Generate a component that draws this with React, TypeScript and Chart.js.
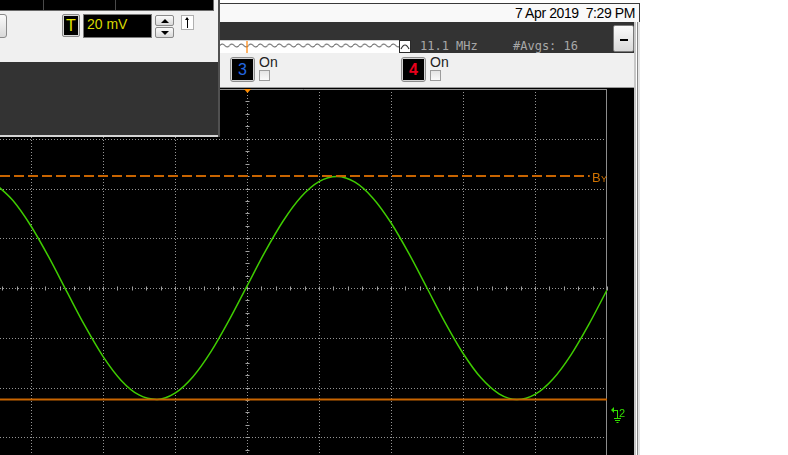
import React, { useEffect, useRef } from "react";
import { Chart, registerables } from "chart.js";

Chart.register(...registerables);

// Channel 2 trace read from the screen: time in horizontal divisions (trigger at 0),
// level in vertical divisions (centre line = 0)
const timeDiv: number[] = [
  -3.5, -3.25, -3.0, -2.75, -2.5, -2.25, -2.0, -1.75, -1.5, -1.25, -1.0, -0.75,
  -0.5, -0.25, 0, 0.25, 0.5, 0.75, 1.0, 1.25, 1.5, 1.75, 2.0, 2.25, 2.5, 2.75,
  3.0, 3.25, 3.5, 3.75, 4.0, 4.25, 4.5, 4.75, 5.0,
];
const ch2Div: number[] = [
  2.101, 1.758, 1.246, 0.614, -0.079, -0.763, -1.374, -1.852, -2.15, -2.24, -2.114, -1.783,
  -1.279, -0.651, 0.039, 0.726, 1.342, 1.829, 2.138, 2.241, 2.127, 1.806, 1.311, 0.689, 0.0, -0.689,
  -1.311, -1.806, -2.126, -2.241, -2.139, -1.829, -1.343, -0.726, -0.04,
];

// Graticule
const xGridDivs: number[] = [-3, -2, -1, 0, 1, 2, 3, 4];
const yGridDivs: number[] = [-3, -2, -1, 0, 1, 2, 3];
const xRange: number[] = [-3.43, 5];
const yRange: number[] = [-4, 4];
const xMinorPerDiv = 5;
const yMinorPerDiv = 4;

// Cursors / markers
const cursorAY = -2.24;
const cursorBY = 2.25;
const cursorBEnd = 4.76;
const ch2GroundDiv = -2.5;
const triggerTime = 0;

// Header texts
const dateText = "7 Apr 2019  7:29 PM";
const freqText = "11.1 MHz";
const avgText = "#Avgs: 16";
const trigLevelText = "20 mV";

const scopePlugin = {
  id: "scopeGraticule",
  beforeDatasetsDraw(chart: any) {
    const { ctx, chartArea: a } = chart;
    const x = chart.scales.x;
    const y = chart.scales.y;
    ctx.save();
    ctx.lineWidth = 1;
    ctx.strokeStyle = "#959595";
    ctx.setLineDash([1, 2]);
    for (const v of xGridDivs) {
      const px = Math.round(x.getPixelForValue(v)) + 0.5;
      ctx.beginPath();
      ctx.moveTo(px, a.top);
      ctx.lineTo(px, a.bottom);
      ctx.stroke();
    }
    for (const v of yGridDivs) {
      const py = Math.round(y.getPixelForValue(v)) + 0.5;
      ctx.beginPath();
      ctx.moveTo(a.left, py);
      ctx.lineTo(a.right, py);
      ctx.stroke();
    }
    ctx.setLineDash([]);
    const cx = Math.round(x.getPixelForValue(0)) + 0.5;
    const cy = Math.round(y.getPixelForValue(0)) + 0.5;
    ctx.strokeStyle = "#a0a0a0";
    ctx.beginPath();
    for (let k = Math.ceil(xRange[0] * xMinorPerDiv); k <= xRange[1] * xMinorPerDiv; k++) {
      const px = Math.round(x.getPixelForValue(k / xMinorPerDiv)) + 0.5;
      ctx.moveTo(px, cy - 2);
      ctx.lineTo(px, cy + 2);
    }
    for (let k = yRange[0] * yMinorPerDiv; k <= yRange[1] * yMinorPerDiv; k++) {
      const py = Math.round(y.getPixelForValue(k / yMinorPerDiv)) + 0.5;
      ctx.moveTo(cx - 2, py);
      ctx.lineTo(cx + 2, py);
    }
    ctx.stroke();
    // frame
    ctx.strokeStyle = "#8c8c8c";
    ctx.beginPath();
    ctx.moveTo(a.left, a.top + 0.5);
    ctx.lineTo(a.right, a.top + 0.5);
    ctx.moveTo(a.right - 0.5, a.top);
    ctx.lineTo(a.right - 0.5, a.bottom);
    ctx.stroke();
    ctx.restore();
  },
  afterDatasetsDraw(chart: any) {
    const { ctx, chartArea: a } = chart;
    const x = chart.scales.x;
    const y = chart.scales.y;
    ctx.save();
    // trigger marker
    const tx = Math.round(x.getPixelForValue(triggerTime)) + 0.5;
    ctx.fillStyle = "#ff8c00";
    ctx.beginPath();
    ctx.moveTo(tx - 3.5, a.top);
    ctx.lineTo(tx + 3.5, a.top);
    ctx.lineTo(tx, a.top + 4);
    ctx.closePath();
    ctx.fill();
    // BY label
    const by = y.getPixelForValue(cursorBY);
    ctx.fillStyle = "#d07200";
    ctx.textBaseline = "alphabetic";
    ctx.font = '13px "Liberation Sans", Arial, sans-serif';
    ctx.fillText("B", a.right - 15, by + 6);
    ctx.font = '9px "Liberation Sans", Arial, sans-serif';
    ctx.fillText("Y", a.right - 6, by + 6);
    // channel 2 ground marker
    const gy = Math.round(y.getPixelForValue(ch2GroundDiv));
    const gx = a.right + 4;
    ctx.fillStyle = "#33dd00";
    ctx.strokeStyle = "#33dd00";
    ctx.lineWidth = 1;
    ctx.beginPath();
    ctx.moveTo(gx, gy - 2);
    ctx.lineTo(gx + 3, gy - 5);
    ctx.lineTo(gx + 3, gy + 1);
    ctx.closePath();
    ctx.fill();
    ctx.beginPath();
    ctx.moveTo(gx + 3, gy - 1.5);
    ctx.lineTo(gx + 7, gy - 1.5);
    ctx.moveTo(gx + 6.5, gy - 2);
    ctx.lineTo(gx + 6.5, gy + 6);
    ctx.moveTo(gx + 3, gy + 6.5);
    ctx.lineTo(gx + 10, gy + 6.5);
    ctx.moveTo(gx + 4, gy + 8.5);
    ctx.lineTo(gx + 9, gy + 8.5);
    ctx.moveTo(gx + 5.5, gy + 10.5);
    ctx.lineTo(gx + 7.5, gy + 10.5);
    ctx.stroke();
    ctx.font = '11px "Liberation Sans", Arial, sans-serif';
    ctx.fillText("2", gx + 8, gy + 5);
    ctx.restore();
  },
};

const abs = (l: number, t: number, w: number, h: number, extra: any = {}) => ({
  position: "absolute" as const,
  left: l,
  top: t,
  width: w,
  height: h,
  boxSizing: "border-box" as const,
  ...extra,
});

const btnGrad = "linear-gradient(#fbfbfb, #d9d9d9)";

export default function App() {
  const canvasRef = useRef<HTMLCanvasElement | null>(null);

  useEffect(() => {
    const canvas = canvasRef.current;
    if (!canvas) return;
    const chart = new Chart(canvas, {
      type: "line",
      data: {
        datasets: [
          {
            label: "Cursor AY",
            data: [
              { x: xRange[0], y: cursorAY },
              { x: xRange[1], y: cursorAY },
            ],
            borderColor: "#c86400",
            borderWidth: 2,
            pointRadius: 0,
          },
          {
            label: "Cursor BY",
            data: [
              { x: xRange[0], y: cursorBY },
              { x: cursorBEnd, y: cursorBY },
            ],
            borderColor: "#c86400",
            borderWidth: 2,
            borderDash: [10, 4],
            pointRadius: 0,
          },
          {
            label: "Ch 2",
            data: timeDiv.map((t, i) => ({ x: t, y: ch2Div[i] })),
            borderColor: "#3fcc00",
            borderWidth: 1.5,
            pointRadius: 0,
            cubicInterpolationMode: "monotone",
          },
        ],
      },
      options: {
        animation: false,
        responsive: false,
        maintainAspectRatio: false,
        events: [],
        layout: { padding: { left: 0, right: 27, top: 1, bottom: 1 } },
        plugins: { legend: { display: false }, tooltip: { enabled: false } },
        scales: {
          x: { type: "linear", min: xRange[0], max: xRange[1], display: false },
          y: { type: "linear", min: yRange[0], max: yRange[1], display: false },
        },
      } as any,
      plugins: [scopePlugin],
    });
    return () => chart.destroy();
  }, []);

  const tri = (dir: "up" | "down") => ({
    position: "absolute" as const,
    left: 5,
    top: 3,
    width: 0,
    height: 0,
    borderLeft: "4px solid transparent",
    borderRight: "4px solid transparent",
    ...(dir === "up" ? { borderBottom: "4px solid #000" } : { borderTop: "4px solid #000" }),
  });

  return (
    <div
      style={{
        position: "fixed",
        left: 0,
        top: 0,
        width: 788,
        height: 455,
        overflow: "hidden",
        background: "#fff",
        fontFamily: '"Liberation Sans", Arial, sans-serif',
      }}
    >
      {/* window title row */}
      <div style={abs(220, 3, 420, 19, { background: "#f9f9f9", borderTop: "1px solid #3a3a3a" })} />
      <div
        style={abs(400, 5, 235, 16, {
          fontSize: 14,
          lineHeight: "16px",
          letterSpacing: "-0.4px",
          textAlign: "right",
          whiteSpace: "pre",
          color: "#000",
        })}
      >
        {dateText}
      </div>
      <div style={abs(639, 3, 1, 19, { background: "#3a3a3a" })} />

      {/* dark header bar */}
      <div style={abs(220, 22, 414, 31, { background: "#333" })} />
      <div style={abs(220, 40, 190, 13, { background: "#fff", borderTop: "1px solid #d0d0d0" })}>
        <svg width={190} height={12} style={{ position: "absolute", left: 0, top: 0 }}>
          <defs>
            <pattern id="wv" width={9.5} height={12} patternUnits="userSpaceOnUse">
              <path d="M0 4.5 Q 2.375 1.5 4.75 4.5 T 9.5 4.5" stroke="#5a5a5a" strokeWidth={1} fill="none" />
            </pattern>
          </defs>
          <rect x={0} y={0} width={180} height={12} fill="url(#wv)" />
          <line x1={27} y1={0} x2={27} y2={12} stroke="#ff8000" strokeWidth={1.2} />
        </svg>
      </div>
      <div style={abs(399, 40, 12, 13, { background: "#fff", border: "1px solid #2a2a2a" })}>
        <svg width={10} height={11} style={{ position: "absolute", left: 0, top: 0 }}>
          <path d="M1 8 Q 5 0 9 8" stroke="#333" strokeWidth={1.2} fill="none" />
        </svg>
      </div>
      <div
        style={abs(420, 39, 80, 14, {
          fontFamily: '"DejaVu Sans Mono", monospace',
          fontSize: 12,
          lineHeight: "14px",
          color: "#a8a8a8",
          whiteSpace: "pre",
        })}
      >
        {freqText}
      </div>
      <div
        style={abs(513, 39, 90, 14, {
          fontFamily: '"DejaVu Sans Mono", monospace',
          fontSize: 12,
          lineHeight: "14px",
          color: "#a8a8a8",
          whiteSpace: "pre",
        })}
      >
        {avgText}
      </div>
      <div style={abs(613, 25, 21, 27, { background: btnGrad, border: "1px solid #7a7a7a", borderRadius: 2 })}>
        <div style={abs(6, 13, 8, 2, { background: "#000" })} />
      </div>

      {/* channel row */}
      <div style={abs(220, 53, 414, 35, { background: "#f0f0f0", borderBottom: "1px solid #9a9a9a" })} />
      <div style={abs(230, 57, 25, 25, { background: "#d4d4d4", border: "1px solid #8c8c8c", borderRadius: 3 })}>
        <div style={abs(1, 1, 21, 21, { background: "#000" })} />
      </div>
      <div
        style={abs(232, 62, 21, 16, {
          fontSize: 16,
          lineHeight: "16px",
          textAlign: "center",
          color: "#2468e0",
        })}
      >
        3
      </div>
      <div style={abs(259, 55, 30, 14, { fontSize: 14, lineHeight: "14px", color: "#222" })}>On</div>
      <div style={abs(259, 70, 11, 11, { background: "linear-gradient(#e4e4e4,#fafafa)", border: "1px solid #9c9c9c" })} />
      <div style={abs(401, 57, 25, 25, { background: "#d4d4d4", border: "1px solid #8c8c8c", borderRadius: 3 })}>
        <div style={abs(1, 1, 21, 21, { background: "#000" })} />
      </div>
      <div
        style={abs(403, 62, 21, 16, {
          fontSize: 16,
          lineHeight: "16px",
          fontWeight: "bold",
          textAlign: "center",
          color: "#e8001c",
        })}
      >
        4
      </div>
      <div style={abs(430, 55, 30, 14, { fontSize: 14, lineHeight: "14px", color: "#222" })}>On</div>
      <div style={abs(430, 70, 11, 11, { background: "linear-gradient(#e4e4e4,#fafafa)", border: "1px solid #9c9c9c" })} />

      {/* plot area */}
      <div style={abs(0, 88, 634, 367, { background: "#000" })} />
      <canvas
        ref={canvasRef}
        width={634}
        height={400}
        style={{ position: "absolute", left: 0, top: 88, width: 634, height: 400 }}
      />

      {/* window right frame */}
      <div style={abs(634, 22, 2, 433, { background: "#c8c8c8" })} />
      <div style={abs(636, 22, 1, 433, { background: "#fff" })} />
      <div style={abs(637, 22, 1, 433, { background: "#888" })} />
      <div style={abs(638, 22, 2, 433, { background: "#e6e6e6" })} />

      {/* trigger level popup */}
      <div style={abs(0, 0, 218, 62, { background: "#f0f0f0" })} />
      <div style={abs(0, 0, 214, 11, { background: "#000", borderBottom: "1px solid #6a6a6a", borderRight: "1px solid #6a6a6a" })}>
        <div style={abs(43, 0, 1, 10, { background: "#4a4a4a" })} />
        <div style={abs(115, 0, 1, 10, { background: "#4a4a4a" })} />
      </div>
      <div style={abs(-12, 14, 19, 24, { background: btnGrad, border: "1px solid #8a8a8a", borderRadius: 3 })} />
      <div style={abs(62, 14, 18, 23, { background: "#d8d8d8", border: "1px solid #8a8a8a", borderRadius: 2 })}>
        <div style={abs(1, 1, 14, 19, { background: "#000" })} />
      </div>
      <div
        style={abs(63, 18, 16, 16, {
          fontSize: 16,
          lineHeight: "16px",
          textAlign: "center",
          color: "#e6e600",
        })}
      >
        T
      </div>
      <div style={abs(83, 14, 69, 24, { background: "#000", border: "1px solid #7a7a7a" })} />
      <div style={abs(87, 17, 60, 14, { fontSize: 14, lineHeight: "14px", color: "#d8d800", whiteSpace: "pre" })}>
        {trigLevelText}
      </div>
      <div style={abs(155, 15, 19, 11, { background: btnGrad, border: "1px solid #8a8a8a", borderRadius: 2 })}>
        <div style={tri("up")} />
      </div>
      <div style={abs(155, 27, 19, 11, { background: btnGrad, border: "1px solid #8a8a8a", borderRadius: 2 })}>
        <div style={tri("down")} />
      </div>
      <div style={abs(181, 15, 13, 15, { background: "#fff", border: "1px solid #b0b0b0" })}>
        <div style={abs(5, 2, 1, 10, { background: "#000" })} />
        <div
          style={{
            position: "absolute",
            left: 3,
            top: 1,
            width: 0,
            height: 0,
            borderLeft: "2.5px solid transparent",
            borderRight: "2.5px solid transparent",
            borderBottom: "3px solid #000",
          }}
        />
      </div>
      <div style={abs(0, 62, 218, 73, { background: "#333" })} />
      <div style={abs(0, 135, 220, 2, { background: "#d4d4d4" })} />
      <div style={abs(218, 0, 2, 137, { background: "#505050" })} />
    </div>
  );
}
